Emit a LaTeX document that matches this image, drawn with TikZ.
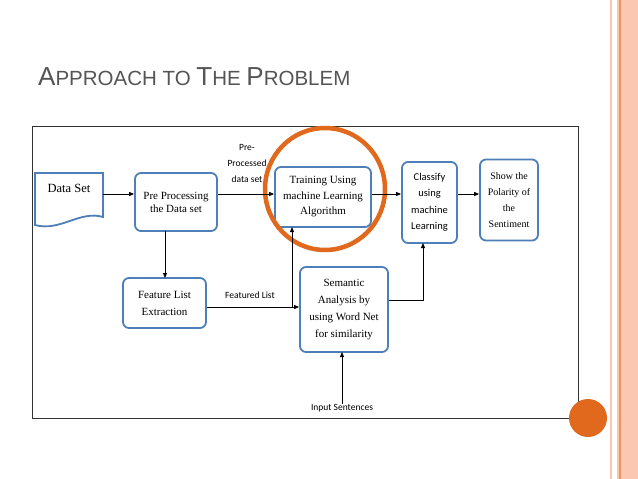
\documentclass[tikz,border=0pt]{standalone}
\usepackage{fontspec}
\setmainfont{Liberation Serif}
\newfontfamily\carl{Carlito}
\newfontfamily\ars{Liberation Sans}
\usetikzlibrary{arrows.meta}
\definecolor{bx}{HTML}{4F7FB8}
\definecolor{org}{HTML}{E0691D}
\definecolor{pale}{HTML}{FBC7B0}
\definecolor{ttl}{HTML}{555555}
\begin{document}
\begin{tikzpicture}[x=1pt,y=-1pt,
 box/.style={draw=bx,line width=1.8pt,rounded corners=6pt,align=center,font=\fontsize{11}{13}\selectfont,inner sep=0pt},
 sbox/.style={box,font=\carl\fontsize{10.5}{16.5}\selectfont},
 lbl/.style={font=\carl\fontsize{9.5}{16}\selectfont,align=center,inner sep=0pt},
 ar/.style={-{Triangle[length=5pt,width=4pt]},line width=1pt}]
\useasboundingbox (0,0) rectangle (638,479);
\fill[white] (0,0) rectangle (638,479);
% right stripes
\fill[pale] (610,0) rectangle (612,479);
\fill[pale] (617,0) rectangle (619,479);
\fill[org!70] (619,0) rectangle (621,479);
\fill[pale] (621,0) rectangle (638,479);
% title
\node[anchor=base west,text=ttl,inner sep=0pt] (title) at (38,85)
 {\ars\fontsize{26}{30}\selectfont A\fontsize{20.5}{24}\selectfont PPROACH TO \fontsize{26}{30}\selectfont T\fontsize{20.5}{24}\selectfont HE \fontsize{26}{30}\selectfont P\fontsize{20.5}{24}\selectfont ROBLEM};
% frame
\draw[line width=0.8pt,draw=black!80] (32,126) rectangle (578,418);
\fill[org] (588,418) circle (19);
% data set document
\draw[draw=bx,line width=1.8pt] (35,173) -- (103,173) -- (103,217)
  .. controls (80,210) and (60,232) .. (35,225) -- cycle;
\node[font=\fontsize{12.5}{14}\selectfont,inner sep=0pt] (ds) at (69,188) {Data Set};
\coordinate (dsr) at (103,194);
\node[box,minimum width=82pt,minimum height=58pt] (pp) at (176,202) {Pre Processing\\the Data set};
\node[box,minimum width=96pt,minimum height=60pt,font=\fontsize{11}{15.5}\selectfont] (tr) at (323,197) {Training Using\\machine Learning\\Algorithm};
\node[sbox,minimum width=55pt,minimum height=81pt] (cl) at (429.5,202.5) {Classify\\using\\machine\\Learning};
\node[box,minimum width=58pt,minimum height=81pt,font=\fontsize{10}{16}\selectfont] (sh) at (509,200) {Show the\\Polarity of\\the\\Sentiment};
\node[box,minimum width=83pt,minimum height=50pt,font=\fontsize{11}{17}\selectfont] (fl) at (164.5,303) {Feature List\\Extraction};
\node[box,minimum width=88pt,minimum height=85pt,font=\fontsize{11}{17}\selectfont] (se) at (344,309.5) {Semantic\\Analysis by\\using Word Net\\for similarity};
\draw[org,line width=4.5pt] (325,189) ellipse (60 and 61);
% labels
\node[lbl] (pl) at (247,163) {Pre-\\Processed\\data set};
\node[lbl] (fll) at (250,295) {Featured List};
\node[lbl] (in) at (342,408) {Input Sentences};
% arrows
\draw[ar] (dsr) -- (pp.west |- dsr);
\draw[ar] (pp.east |- dsr) -- (tr.west |- dsr);
\draw[ar] (tr.east |- dsr) -- (cl.west |- dsr);
\draw[ar] (cl.east |- dsr) -- (sh.west |- dsr);
\draw[ar] (165,231) -- (165,278);
\coordinate (j) at (292,307);
\draw[ar] (fl.east |- j) -- (se.west |- j);
\draw[ar] (j) -- (292,227);
\coordinate (k) at (423,300);
\draw[ar] (se.east |- k) -- (k) -- (423,243);
\draw[ar] (in.north) -- (342,352);
\end{tikzpicture}
\end{document}
